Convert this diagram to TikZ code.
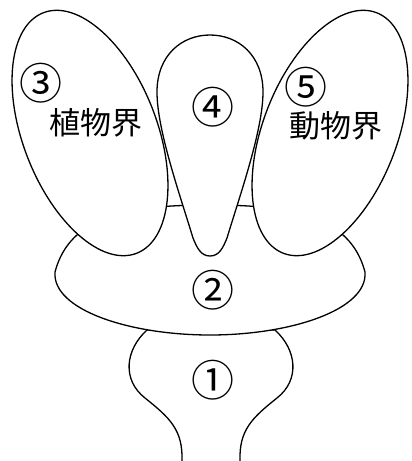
\documentclass[tikz,border=0pt]{standalone}
\usepackage{fontspec}
\newfontfamily\jp{Noto Sans CJK JP}
\tikzset{
  outline/.style={draw=black, line width=1.3pt, fill=white, line join=round},
  openline/.style={draw=black, line width=1.3pt, line cap=round},
  numlabel/.style={inner sep=0pt, font=\jp\fontsize{43}{43}\selectfont},
  wordlabel/.style={inner sep=0pt, font=\jp\fontsize{31}{31}\selectfont}
}
\begin{document}
\begin{tikzpicture}[x=1pt,y=-1pt]
\useasboundingbox[fill=white] (0,0) rectangle (412,461);
% part 1 (bottom stem), open at the bottom
\draw[openline] (182,461) .. controls (183,430) and (170,418) .. (145,398)
   .. controls (122,380) and (125,350) .. (147,330)
   -- (275,330)
   .. controls (297,350) and (300,380) .. (277,398)
   .. controls (252,418) and (239,430) .. (240,461);
% part 2 (wide middle body)
\path[outline] (210,205) .. controls (130,205) and (70,215) .. (55,272)
   .. controls (52,310) and (130,335) .. (210,335)
   .. controls (290,335) and (368,310) .. (365,272)
   .. controls (350,215) and (290,205) .. (210,205) -- cycle;
% part 4 (middle lobe)
\path[outline] (210,256) .. controls (201,256) and (197,248) .. (193,238)
   .. controls (180,195) and (157,130) .. (157,92)
   .. controls (157,55) and (182,35) .. (210,35)
   .. controls (238,35) and (263,55) .. (263,92)
   .. controls (263,130) and (240,195) .. (227,238)
   .. controls (223,248) and (219,256) .. (210,256) -- cycle;
% part 3 (left lobe) and part 5 (right lobe)
\begin{scope}[shift={(90,133)}, rotate=-68.8]
  \path[outline] (0,0) ellipse [x radius=129pt, y radius=67pt];
\end{scope}
\begin{scope}[shift={(330,133)}, rotate=68.8]
  \path[outline] (0,0) ellipse [x radius=129pt, y radius=67pt];
\end{scope}
% labels
\node[numlabel] (n3) at (41,83) {③};
\node[wordlabel] (w3) at (96,123) {植物界};
\node[numlabel] (n4) at (213,107) {④};
\node[numlabel] (n5) at (306,87) {⑤};
\node[wordlabel] (w5) at (336,126) {動物界};
\node[numlabel] (n2) at (213,290) {②};
\node[numlabel] (n1) at (213,380) {①};
\end{tikzpicture}
\end{document}
